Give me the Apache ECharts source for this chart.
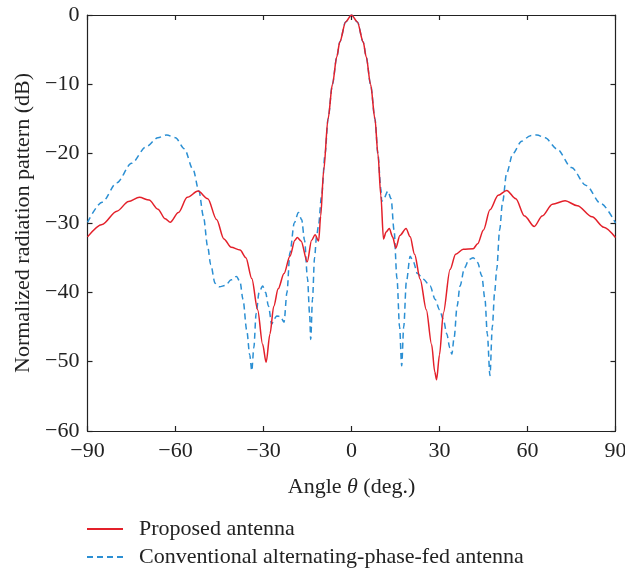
<!DOCTYPE html>
<html>
<head>
<meta charset="utf-8">
<script src="https://cdn.jsdelivr.net/npm/echarts@6/dist/echarts.min.js"></script>
<style>
html,body{margin:0;padding:0;background:#fff;}
#chart{width:625px;height:568px;}
</style>
</head>
<body>
<div id="chart"></div>
<script>
var xTicks = [-90, -60, -30, 0, 30, 60, 90];
var yTicks = [0, -10, -20, -30, -40, -50, -60];
var seriesNames = ['Proposed antenna', 'Conventional alternating-phase-fed antenna'];

var proposedAngle = [-90,-85,-80,-76,-72.3,-69,-66,-63.5,-61.8,-59,-56,-52.3,-49,-46,-43.5,-41,-38,-36,-34,-32,-30.3,-29.1,-27.8,-26.5,-25,-23,-21,-19.3,-18.5,-17.2,-15.1,-13.6,-12.4,-11.2,-10.5,-9.5,-8,-6.5,-5,-4,-2,0,2,4,5,6.5,8,9,10,10.9,11.8,12.9,14,15.1,16.5,18.6,20,21.5,23.4,25.5,27.3,28.4,29.0,30,31.3,33.6,35.5,38.1,41.5,43,45,47.2,50,52.9,56,59,62.3,65,68.5,72.8,77,82,86,90];
var proposedDb = [-32.0,-30.2,-28.3,-26.9,-26.3,-26.7,-28.0,-29.4,-29.9,-28.5,-26.3,-25.4,-26.5,-29.5,-32.3,-33.5,-33.9,-35,-38,-42.5,-47.5,-50.1,-46,-42,-39.5,-37.3,-34.8,-32.5,-32.1,-32.6,-35.6,-32.5,-31.7,-32.6,-29,-22.5,-15,-10,-6.0,-3.9,-1.0,0,-1.0,-3.9,-6.0,-10,-15,-20,-26,-32.3,-31.3,-30.8,-32,-33.6,-31.8,-30.8,-32,-34.5,-38.1,-42.5,-47.5,-51.5,-52.6,-49,-43,-36.7,-34.5,-33.8,-33.7,-33,-31,-28.1,-26,-25.3,-26.5,-29,-30.5,-29,-27.3,-26.8,-27.5,-29.1,-30.6,-32.1];

var conventionalAngle = [-90,-85,-80,-75,-70,-66,-63,-60,-57,-54,-52,-50.5,-49,-48,-46.5,-45,-43,-41,-39.2,-38,-37,-35.7,-34.7,-34,-33.3,-32.5,-31.5,-30.3,-29.3,-28.3,-27.2,-26.3,-25.5,-24.2,-23,-22,-21,-19.5,-18.1,-17,-16,-15,-14.3,-13.9,-13.3,-12.6,-11.9,-11.3,-10.2,-9,-8,-6.5,-5,-4,-2,0,2,4,5,6.5,8,9,10,10.3,10.9,12.4,13.5,14.5,15.5,16.4,17.1,17.8,18.7,20,21,22.5,24.5,26.8,28.5,30,31.3,32.5,33.5,34.2,35,36,37,38.5,40,41.5,43,44.4,45.5,46.3,47.2,48,48.8,49.5,50.5,51.5,52.9,55,58,61,63.2,66,70,75,80,85,90];
var conventionalDb = [-29.9,-27.0,-24.2,-21.4,-19.0,-17.7,-17.3,-17.7,-19.3,-22.3,-25.4,-29,-33.5,-36,-38.7,-39.2,-39,-38.2,-37.7,-38.5,-41,-45.5,-49,-51.3,-48,-43,-40,-39.1,-40,-42,-44.6,-43.8,-43.4,-43.5,-44.3,-40,-34.3,-30,-28.5,-29.5,-32.5,-38,-43,-46.8,-41,-35,-31.9,-30.5,-26.1,-20,-15,-10,-6.0,-3.9,-1.0,0,-1.0,-3.9,-6.0,-10,-15,-20,-25,-26.9,-26.6,-25.4,-26.5,-31,-38,-45,-50.6,-45,-38.5,-34.8,-35.5,-37.3,-38.1,-39.1,-41,-42.5,-43.9,-46,-48,-48.9,-46.5,-42,-39.1,-36.5,-35.3,-35.0,-35.7,-37.6,-41,-46,-52.0,-45,-40,-36.7,-31,-27,-22.8,-20.0,-18.2,-17.4,-17.3,-17.7,-19.3,-22.0,-24.6,-27.2,-30.0];

function pairs(xs, ys){ var out=[]; for (var i=0;i<xs.length;i++) out.push([xs[i], ys[i]]); return out; }

var FONT = 'Liberation Serif';
var FS = 22;
var chart = echarts.init(document.getElementById('chart'), null, {renderer:'canvas'});
var axisLine = {show:true, onZero:false, lineStyle:{color:'#222', width:1.2}};
var tick = {show:true, inside:true, length:5, lineStyle:{color:'#222', width:1.2}};
function legendFor(name, top){
  return {
    data:[name], orient:'vertical', left:81, top:top,
    itemWidth:36, itemHeight:14, itemGap:10,
    itemStyle:{opacity:0},
    textStyle:{fontFamily:FONT, fontSize:FS, color:'#222', padding:[0,0,0,11]}
  };
}
chart.setOption({
  animation:false,
  backgroundColor:'#fff',
  grid:{left:87.5, right:9.5, top:15, bottom:137, containLabel:false, outerBoundsMode:'none'},
  legend:[legendFor(seriesNames[0], 513), legendFor(seriesNames[1], 541)],
  xAxis:[{
    type:'value', min:-90, max:90, interval:30, position:'bottom',
    axisLine:axisLine, axisTick:tick, splitLine:{show:false},
    axisLabel:{fontFamily:FONT, fontSize:FS, color:'#222', margin:9,
      formatter:function(v){ return xTicks.indexOf(v)>=0 ? String(v).replace('-', '\u2212') : ''; }},
    name:'{a|Angle }{b|\u03b8}{a| (deg.)}', nameLocation:'middle', nameGap:45,
    nameTextStyle:{rich:{a:{fontFamily:FONT, fontSize:FS, color:'#222'}, b:{fontFamily:FONT, fontSize:FS, fontStyle:'italic', color:'#222'}}}
  },{
    type:'value', min:-90, max:90, interval:30, position:'top',
    axisLine:axisLine, axisTick:tick, axisLabel:{show:false}, splitLine:{show:false}
  }],
  yAxis:[{
    type:'value', min:-60, max:0, interval:10, position:'left',
    axisLine:axisLine, axisTick:tick, splitLine:{show:false},
    axisLabel:{fontFamily:FONT, fontSize:FS, color:'#222', margin:8,
      formatter:function(v){ return yTicks.indexOf(v)>=0 ? String(v).replace('-', '\u2212') : ''; }},
    name:'Normalized radiation pattern (dB)', nameLocation:'middle', nameGap:53, nameRotate:90,
    nameTextStyle:{fontFamily:FONT, fontSize:FS, color:'#222'}
  },{
    type:'value', min:-60, max:0, interval:10, position:'right',
    axisLine:axisLine, axisTick:tick, axisLabel:{show:false}, splitLine:{show:false}
  }],
  series:[{
    name:seriesNames[1], type:'line', xAxisIndex:0, yAxisIndex:0, z:2,
    data:pairs(conventionalAngle, conventionalDb), showSymbol:false, symbol:'none',
    smooth:0.3, smoothMonotone:'x',
    lineStyle:{color:'#2b8fd3', width:1.5, type:[6,4]}, itemStyle:{color:'#2b8fd3'}
  },{
    name:seriesNames[0], type:'line', xAxisIndex:0, yAxisIndex:0, z:3,
    data:pairs(proposedAngle, proposedDb), showSymbol:false, symbol:'none',
    smooth:0.3, smoothMonotone:'x',
    lineStyle:{color:'#e3202a', width:1.5}, itemStyle:{color:'#e3202a'}
  }]
});
</script>
</body>
</html>
